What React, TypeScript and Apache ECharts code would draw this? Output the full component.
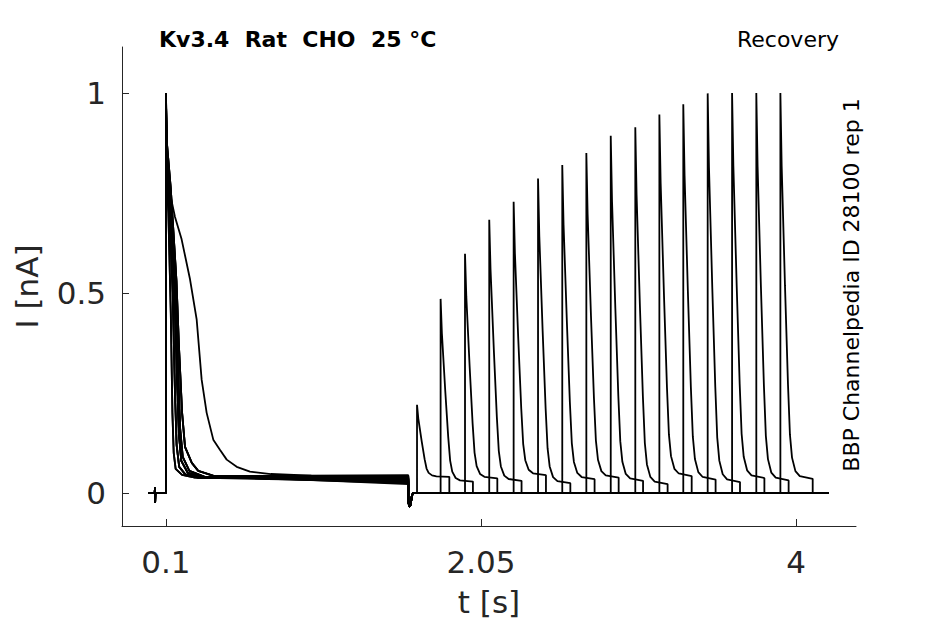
import { useEffect, useRef } from 'react'
import * as echarts from 'echarts'

// axis ranges
const X_MIN = -0.172
const X_MAX = 4.371
const Y_MIN = -0.083
const Y_MAX = 1.115
const X_TICKS = [0.1, 2.05, 4]
const Y_TICKS = [0, 0.5, 1]

const TITLE = 'Kv3.4  Rat  CHO  25 °C'
const PROTOCOL = 'Recovery'
const SOURCE = 'BBP Channelpedia ID 28100 rep 1'

// protocol timing (s)
const PREPULSE_ON = 0.1
const PREPULSE_OFF = 1.6
const TEST_WIDTH = 0.2
const TRACE_END = 4.2

// holding level before the prepulse, with the small artifact near t = 0.03
const START_POINTS = [
  [-0.011, 0], [0.031, 0], [0.032, 0.014], [0.033, -0.024], [0.034, 0], [0.1, 0],
]

// prepulse decays, [t, I]
const FIRST_FAST_A = [
  [0.1, 1], [0.103, 0.8], [0.115, 0.7], [0.13, 0.45], [0.14, 0.2], [0.148, 0.1],
  [0.16, 0.06], [0.2, 0.045], [0.28, 0.038],
]
const FIRST_FAST_B = [
  [0.1, 1], [0.103, 0.82], [0.12, 0.72], [0.142, 0.5], [0.156, 0.25], [0.166, 0.12],
  [0.182, 0.065], [0.22, 0.046], [0.3, 0.038],
]
const FIRST_FAST_C = [
  [0.1, 1], [0.104, 0.84], [0.128, 0.73], [0.152, 0.52], [0.168, 0.3], [0.18, 0.15],
  [0.195, 0.08], [0.235, 0.05], [0.32, 0.04],
]
const FIRST_FAST_E = [
  [0.1, 1], [0.104, 0.85], [0.13, 0.74], [0.158, 0.54], [0.174, 0.32], [0.188, 0.16],
  [0.204, 0.09], [0.245, 0.055], [0.34, 0.04],
]
const FIRST_FAST_D = [
  [0.1, 1], [0.105, 0.88], [0.13, 0.76], [0.165, 0.53], [0.18, 0.37], [0.2, 0.2],
  [0.218, 0.115], [0.26, 0.075], [0.3, 0.055], [0.4, 0.042],
]
const FIRST_SLOW = [
  [0.1, 1], [0.104, 0.85], [0.119, 0.76], [0.156, 0.69], [0.197, 0.634], [0.249, 0.534],
  [0.29, 0.434], [0.321, 0.283], [0.352, 0.2], [0.393, 0.133], [0.434, 0.108],
  [0.476, 0.083], [0.538, 0.065], [0.62, 0.053], [0.75, 0.047], [1.0, 0.043],
]
const FIRST_SHAPES = [FIRST_FAST_A, FIRST_FAST_B, FIRST_FAST_C, FIRST_FAST_D, FIRST_FAST_E, FIRST_SLOW]
const FIRST_SHAPE_OF_TRACE = [5, 0, 1, 2, 3, 4, 1, 2, 4, 3, 2, 0, 4, 1, 3, 2]

// steady level of each sweep during the prepulse and the test pulse
const SHELF = [
  0.04, 0.028, 0.036, 0.03, 0.044, 0.024, 0.034, 0.038,
  0.03, 0.022, 0.042, 0.033, 0.027, 0.037, 0.031, 0.035,
]

// tail current dip after the prepulse, [t, I]
const DIP_POINTS = [[1.6, -0.02], [1.606, -0.035], [1.614, -0.03], [1.622, -0.008], [1.63, 0]]

// test pulses: onset time and peak current of each sweep
const TEST_TIMES = [
  1.654, 1.8, 1.951, 2.101, 2.252, 2.403, 2.553, 2.702,
  2.853, 3.005, 3.154, 3.302, 3.453, 3.604, 3.754, 3.903,
]
const TEST_PEAKS = [
  0.22, 0.485, 0.598, 0.683, 0.728, 0.786, 0.82, 0.85,
  0.893, 0.914, 0.946, 0.972, 0.999, 1.0, 1.0, 1.0,
]
// decay of the test current, time after onset and share of peak above the shelf
const TEST_DECAY_DT = [0, 0.008, 0.0285, 0.047, 0.059, 0.072, 0.093, 0.12]
const TEST_DECAY_FRAC = [1, 0.81, 0.5, 0.245, 0.115, 0.055, 0.02, 0.007]

const FONT = 'DejaVu Sans'
const AXIS_COLOR = '#262626'

function buildSweep(i: number): number[][] {
  const shelf = SHELF[i]
  const pts: number[][] = START_POINTS.map((p) => [p[0], p[1]])
  pts.push([PREPULSE_ON, 0])
  FIRST_SHAPES[FIRST_SHAPE_OF_TRACE[i]].forEach((p) => pts.push([p[0], p[1]]))
  pts.push([PREPULSE_OFF, shelf])
  DIP_POINTS.forEach((p) => pts.push([p[0], p[1]]))
  const t0 = TEST_TIMES[i]
  const peak = TEST_PEAKS[i]
  pts.push([t0, 0])
  TEST_DECAY_DT.forEach((dt, k) => {
    pts.push([t0 + dt, shelf + (peak - shelf) * TEST_DECAY_FRAC[k]])
  })
  pts.push([t0 + TEST_WIDTH, shelf])
  pts.push([t0 + TEST_WIDTH, 0])
  pts.push([TRACE_END, 0])
  return pts
}

export default function App() {
  const ref = useRef<HTMLDivElement>(null)

  useEffect(() => {
    if (!ref.current) return
    const chart = echarts.init(ref.current, null, { renderer: 'svg' })

    const series = TEST_TIMES.map((_, i) => ({
      type: 'line',
      data: buildSweep(i),
      symbol: 'none',
      silent: true,
      lineStyle: { color: '#000', width: 1.8 },
    }))

    chart.setOption({
      animation: false,
      backgroundColor: '#fff',
      grid: { left: 122, top: 47, width: 734, height: 479, containLabel: false },
      xAxis: {
        type: 'value',
        min: X_MIN,
        max: X_MAX,
        name: 't [s]',
        nameLocation: 'middle',
        nameGap: 60,
        nameTextStyle: { fontFamily: FONT, fontSize: 31, color: AXIS_COLOR },
        axisLine: { onZero: false, lineStyle: { color: AXIS_COLOR, width: 1 } },
        axisTick: { inside: true, length: 7, customValues: X_TICKS, lineStyle: { color: AXIS_COLOR } },
        axisLabel: {
          customValues: X_TICKS,
          margin: 20,
          fontFamily: FONT,
          fontSize: 31,
          color: AXIS_COLOR,
        },
        splitLine: { show: false },
      },
      yAxis: {
        type: 'value',
        min: Y_MIN,
        max: Y_MAX,
        name: 'I [nA]',
        nameLocation: 'middle',
        nameGap: 80,
        nameTextStyle: { fontFamily: FONT, fontSize: 31, color: AXIS_COLOR },
        axisLine: { show: true, onZero: false, lineStyle: { color: AXIS_COLOR, width: 1 } },
        axisTick: { show: true, inside: true, length: 7, customValues: Y_TICKS, lineStyle: { color: AXIS_COLOR } },
        axisLabel: {
          customValues: Y_TICKS,
          margin: 16,
          fontFamily: FONT,
          fontSize: 31,
          color: AXIS_COLOR,
        },
        splitLine: { show: false },
      },
      graphic: [
        {
          type: 'text',
          x: 159,
          y: 39,
          style: {
            text: TITLE,
            fontFamily: FONT,
            fontSize: 22,
            fontWeight: 'bold',
            fill: '#000',
            align: 'left',
            verticalAlign: 'middle',
            textAlign: 'left',
            textVerticalAlign: 'middle',
          },
        },
        {
          type: 'text',
          x: 839,
          y: 39,
          style: {
            text: PROTOCOL,
            fontFamily: FONT,
            fontSize: 22,
            fill: '#000',
            align: 'right',
            verticalAlign: 'middle',
            textAlign: 'right',
            textVerticalAlign: 'middle',
          },
        },
        {
          type: 'text',
          x: 851,
          y: 285,
          rotation: Math.PI / 2,
          style: {
            text: SOURCE,
            fontFamily: FONT,
            fontSize: 22,
            fill: '#000',
            align: 'center',
            verticalAlign: 'middle',
            textAlign: 'center',
            textVerticalAlign: 'middle',
          },
        },
      ],
      series,
    })

    return () => {
      chart.dispose()
    }
  }, [])

  return (
    <div
      ref={ref}
      style={{ position: 'fixed', left: 0, top: 0, width: 945, height: 624, background: '#fff' }}
    />
  )
}
